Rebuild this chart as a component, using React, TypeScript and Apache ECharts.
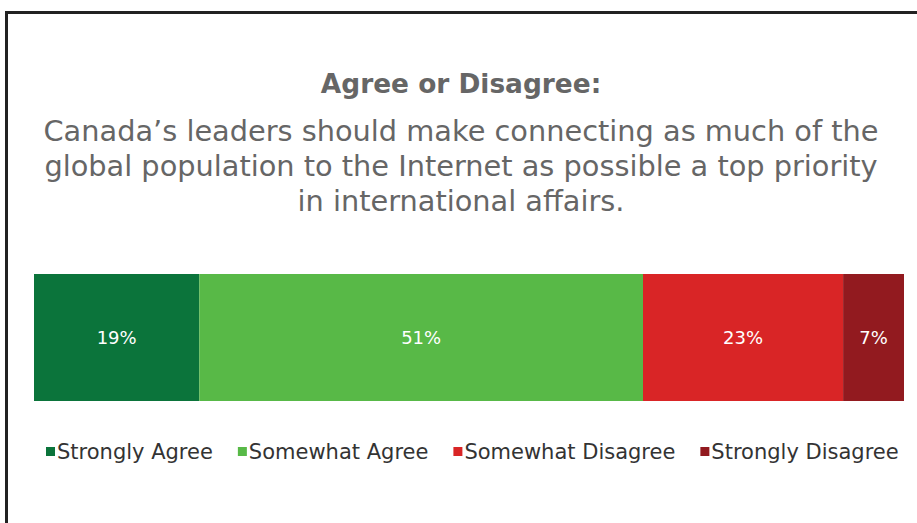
import React, { useEffect, useRef } from "react";
import * as echarts from "echarts";

const responses = ["Strongly Agree", "Somewhat Agree", "Somewhat Disagree", "Strongly Disagree"];
const shares = [19, 51, 23, 7];
const colors = ["#0b743b", "#58b947", "#d92526", "#921a1f"];
const titleText = "Agree or Disagree:";
const subtitleLines = [
  "Canada\u2019s leaders should make connecting as much of the",
  "global population to the Internet as possible a top priority",
  "in international affairs.",
];

const FONT = "'DejaVu Sans', sans-serif";

export default function App() {
  const ref = useRef<HTMLDivElement>(null);
  useEffect(() => {
    if (!ref.current) return;
    const chart = echarts.init(ref.current, undefined, { renderer: "svg" });
    chart.setOption({
      animation: false,
      backgroundColor: "#ffffff",
      graphic: [
        {
          type: "rect",
          shape: { x: 6.5, y: 12.5, width: 1000, height: 1000 },
          style: { fill: "none", stroke: "#222222", lineWidth: 3 },
          silent: true,
        },
        {
          type: "text",
          x: 461,
          y: 83,
          style: {
            text: titleText,
            align: "center",
            verticalAlign: "middle",
            fontSize: 26.4,
            fontWeight: "bold",
            fontFamily: FONT,
            fill: "#666666",
          },
        },
        {
          type: "text",
          x: 461,
          y: 113,
          style: {
            text: subtitleLines.join("\n"),
            align: "center",
            verticalAlign: "top",
            fontSize: 28.8,
            lineHeight: 35,
            fontFamily: FONT,
            fill: "#666666",
          },
        },
      ],
      grid: { left: 34, right: 13, top: 274, height: 127, containLabel: false },
      xAxis: { type: "value", min: 0, max: 100, show: false },
      yAxis: { type: "category", data: [""], show: false },
      legend: {
        left: 41,
        top: 436,
        itemWidth: 9,
        itemHeight: 9,
        itemGap: 25,
        icon: "rect",
        selectedMode: false,
        textStyle: { fontSize: 21, color: "#333333", fontFamily: FONT, padding: [0, 0, 0, -3] },
        data: responses,
      },
      series: responses.map((name, i) => ({
        type: "bar",
        name,
        stack: "total",
        barWidth: "100%",
        data: [shares[i]],
        itemStyle: { color: colors[i] },
        label: {
          show: true,
          position: "inside",
          formatter: "{c}%",
          color: "#ffffff",
          fontSize: 18,
          fontFamily: FONT,
        },
      })),
    });
    return () => chart.dispose();
  }, []);
  return (
    <div
      ref={ref}
      style={{ position: "fixed", left: 0, top: 0, width: 917, height: 523 }}
    />
  );
}
